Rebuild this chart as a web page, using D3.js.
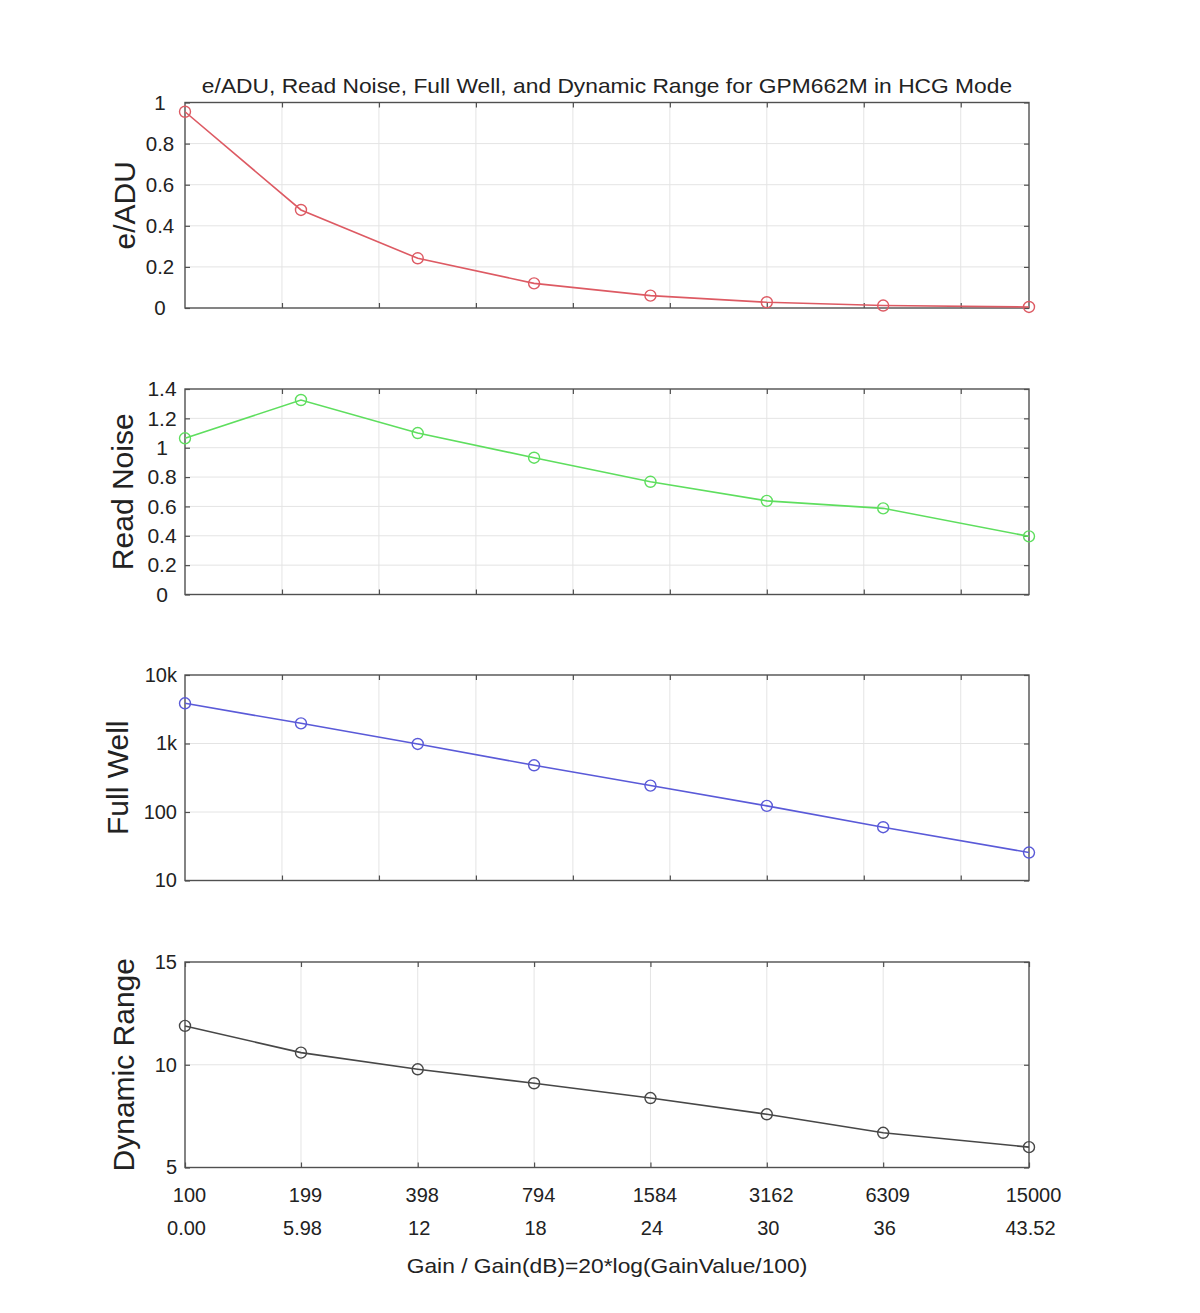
<!DOCTYPE html>
<html>
<head>
<meta charset="utf-8">
<script src="https://cdn.jsdelivr.net/npm/d3@7"></script>
<style>
  body { margin: 0; background: #fff; }
  svg { display: block; font-family: "Liberation Sans", Arial, sans-serif; }
</style>
</head>
<body>
<div id="chart"></div>
<script>
const gainValues = [100, 199, 398, 794, 1584, 3162, 6309, 15000];
const gainDb = [0, 5.98, 12, 18, 24, 30, 36, 43.52];
const gainDbLabels = ["0.00", "5.98", "12", "18", "24", "30", "36", "43.52"];
const gridDb = [5, 10, 15, 20, 25, 30, 35, 40];

const eADU = [0.955, 0.477, 0.242, 0.120, 0.060, 0.028, 0.012, 0.005];
const readNoise = [1.064, 1.325, 1.10, 0.932, 0.768, 0.638, 0.587, 0.396];
const fullWell = [3860, 1970, 984, 481, 243, 123, 60, 25.6];
const dynamicRange = [11.89, 10.59, 9.78, 9.10, 8.38, 7.59, 6.69, 5.99];

const eADUTicks = [0, 0.2, 0.4, 0.6, 0.8, 1];
const readNoiseTicks = [0, 0.2, 0.4, 0.6, 0.8, 1, 1.2, 1.4];
const fullWellTicks = [10, 100, 1000, 10000];
const fullWellTickLabels = ["10", "100", "1k", "10k"];
const dynamicRangeTicks = [5, 10, 15];

const TITLE = "e/ADU, Read Noise, Full Well, and Dynamic Range for GPM662M in HCG Mode";
const X_LABEL = "Gain / Gain(dB)=20*log(GainValue/100)";

const width = 1200;
const height = 1313;
const left = 185, right = 1029;
const panelH = 205.5;
const AXIS_COLOR = "#505050";
const GRID_COLOR = "#e4e4e4";
const TEXT_COLOR = "#222";

const svg = d3.select("#chart").append("svg")
  .attr("width", width)
  .attr("height", height);

const x = d3.scaleLinear().domain([0, 43.52]).range([left, right]);

// centred: tick labels of the upper two panels sit centred in their column
const panels = [
  { label: "e/ADU", values: eADU, color: "#dd5a63", top: 102.5, labelX: 135,
    y: d3.scaleLinear().domain([0, 1]), ticks: eADUTicks, fmt: d => String(d),
    centred: 160, tickFont: 20.5 },
  { label: "Read Noise", values: readNoise, color: "#5ede5e", top: 389, labelX: 133,
    y: d3.scaleLinear().domain([0, 1.4]), ticks: readNoiseTicks, fmt: d => String(+d.toFixed(1)),
    centred: 162, tickFont: 21 },
  { label: "Full Well", values: fullWell, color: "#5a5ad8", top: 675, labelX: 128,
    y: d3.scaleLog().domain([10, 10000]), ticks: fullWellTicks, fmt: (d, i) => fullWellTickLabels[i],
    centred: null, tickFont: 20 },
  { label: "Dynamic Range", values: dynamicRange, color: "#474747", top: 962, labelX: 134,
    y: d3.scaleLinear().domain([5, 15]), ticks: dynamicRangeTicks, fmt: d => String(d),
    centred: null, tickFont: 20 }
];

svg.append("text")
  .attr("transform", `translate(${(left + right) / 2},93) scale(1.14,1)`)
  .attr("text-anchor", "middle")
  .attr("font-size", "20px")
  .attr("fill", TEXT_COLOR)
  .text(TITLE);

panels.forEach(function (p, k) {
  const last = k === panels.length - 1;
  p.y.range([p.top + panelH, p.top]);
  const g = svg.append("g");
  const xTicks = last ? gainDb : gridDb;

  // grid
  g.append("g").selectAll("line")
    .data(xTicks.filter(d => d > 0 && d < 43.52))
    .join("line")
    .attr("x1", d => x(d)).attr("x2", d => x(d))
    .attr("y1", p.top).attr("y2", p.top + panelH)
    .attr("stroke", GRID_COLOR).attr("stroke-width", 1);
  g.append("g").selectAll("line")
    .data(p.ticks.slice(1, -1))
    .join("line")
    .attr("x1", left).attr("x2", right)
    .attr("y1", d => p.y(d)).attr("y2", d => p.y(d))
    .attr("stroke", GRID_COLOR).attr("stroke-width", 1);

  // axes with inward ticks
  const yl = g.append("g").attr("transform", `translate(${left},0)`)
    .call(d3.axisLeft(p.y).tickValues(p.ticks).tickFormat(p.fmt)
      .tickSizeInner(-5).tickSizeOuter(0).tickPadding(8));
  yl.selectAll("text")
    .attr("font-size", p.tickFont + "px").attr("fill", TEXT_COLOR)
    .attr("font-family", "Liberation Sans, Arial, sans-serif");
  if (p.centred !== null) {
    yl.selectAll("text").attr("text-anchor", "middle").attr("x", p.centred - left);
  }
  g.append("g").attr("transform", `translate(${right},0)`)
    .call(d3.axisRight(p.y).tickValues(p.ticks).tickFormat("")
      .tickSizeInner(-5).tickSizeOuter(0));
  g.append("g").attr("transform", `translate(0,${p.top})`)
    .call(d3.axisTop(x).tickValues(xTicks).tickFormat("")
      .tickSizeInner(-5).tickSizeOuter(0));
  const xb = g.append("g").attr("transform", `translate(0,${p.top + panelH})`)
    .call(d3.axisBottom(x).tickValues(xTicks).tickFormat("")
      .tickSizeInner(-5).tickSizeOuter(0));
  g.selectAll(".domain").remove();
  g.selectAll(".tick line").attr("stroke", AXIS_COLOR).attr("stroke-width", 1.2);

  if (last) {
    xb.selectAll(".tick text").remove();
    const tk = xb.selectAll(".tick");
    tk.append("text")
      .attr("x", 4).attr("y", 34)
      .attr("text-anchor", "middle")
      .attr("font-size", "20px").attr("fill", TEXT_COLOR)
      .text((d, i) => gainValues[i]);
    tk.append("text")
      .attr("x", 1).attr("y", 67)
      .attr("text-anchor", "middle")
      .attr("font-size", "20px").attr("fill", TEXT_COLOR)
      .text((d, i) => gainDbLabels[i]);
  }

  // box
  g.append("rect")
    .attr("x", left).attr("y", p.top)
    .attr("width", right - left).attr("height", panelH)
    .attr("fill", "none").attr("stroke", AXIS_COLOR).attr("stroke-width", 1.4);

  // y label
  g.append("text")
    .attr("transform", `translate(${p.labelX},${p.top + panelH / 2}) rotate(-90)`)
    .attr("text-anchor", "middle")
    .attr("font-size", "30px").attr("fill", TEXT_COLOR)
    .text(p.label);

  // series
  const line = d3.line().x((d, i) => x(gainDb[i])).y(d => p.y(d));
  g.append("path")
    .datum(p.values)
    .attr("d", line)
    .attr("fill", "none")
    .attr("stroke", p.color)
    .attr("stroke-width", 1.6);
  g.append("g").selectAll("circle")
    .data(p.values)
    .join("circle")
    .attr("cx", (d, i) => x(gainDb[i]))
    .attr("cy", d => p.y(d))
    .attr("r", 5.5)
    .attr("fill", "none")
    .attr("stroke", p.color)
    .attr("stroke-width", 1.4);
});

svg.append("text")
  .attr("transform", `translate(${(left + right) / 2},1273) scale(1.14,1)`)
  .attr("text-anchor", "middle")
  .attr("font-size", "20px")
  .attr("fill", TEXT_COLOR)
  .text(X_LABEL);
</script>
</body>
</html>
